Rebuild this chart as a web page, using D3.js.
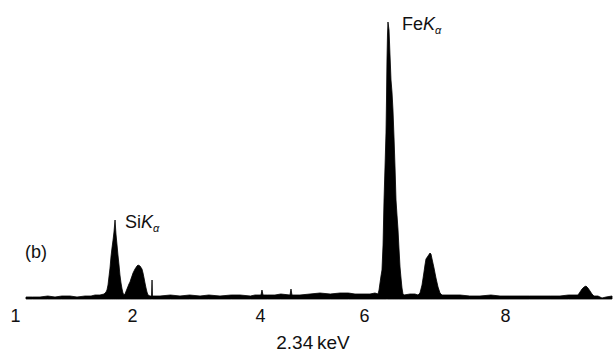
<!DOCTYPE html>
<html>
<head>
<meta charset="utf-8">
<script src="https://cdn.jsdelivr.net/npm/d3@7"></script>
<style>
  body { margin: 0; background: #fff; }
  text { font-family: "Liberation Sans", Arial, Helvetica, sans-serif; fill: #111; }
</style>
</head>
<body>
<div id="chart"></div>
<script>
// EDS spectrum (b), energies in keV and counts (arbitrary units)
const energy = [
  1.094, 1.150, 1.214, 1.280, 1.342, 1.400, 1.470, 1.530, 1.598, 1.650,
  1.684, 1.726, 1.761, 1.778, 1.786, 1.795, 1.803, 1.812, 1.821, 1.829,
  1.838, 1.846, 1.855, 1.863, 1.872, 1.880, 1.889, 1.897, 1.906, 1.915,
  1.923, 1.932, 1.940, 1.957, 1.974, 1.983, 1.991, 2.000, 2.016, 2.047,
  2.078, 2.094, 2.125, 2.156, 2.172, 2.188, 2.203, 2.219, 2.234, 2.250,
  2.281, 2.305, 2.313, 2.320, 2.438, 2.600, 2.750, 2.900, 3.063, 3.200,
  3.375, 3.550, 3.688, 3.850, 3.922, 4.019, 4.038, 4.058, 4.150, 4.288,
  4.400, 4.577, 4.596, 4.615, 4.769, 4.962, 5.154, 5.350, 5.538, 5.700,
  5.827, 6.000, 6.085, 6.156, 6.199, 6.213, 6.227, 6.241, 6.255, 6.270,
  6.284, 6.298, 6.312, 6.319, 6.326, 6.333, 6.340, 6.355, 6.369, 6.383,
  6.397, 6.411, 6.426, 6.440, 6.454, 6.468, 6.482, 6.496, 6.511, 6.525,
  6.539, 6.553, 6.567, 6.652, 6.723, 6.766, 6.794, 6.823, 6.851, 6.865,
  6.879, 6.908, 6.936, 6.950, 6.965, 6.993, 7.021, 7.050, 7.078, 7.106,
  7.362, 7.500, 7.645, 7.800, 7.929, 8.070, 8.213, 8.350, 8.496, 8.640,
  8.780, 8.900, 8.993, 9.035, 9.064, 9.092, 9.121, 9.149, 9.177, 9.206,
  9.234, 9.262, 9.319, 9.376, 9.433, 9.518
];
const counts = [
  2, 2, 2, 3, 2, 3, 3, 2, 3, 3,
  4, 4, 5, 7, 9, 14, 22, 31, 43, 51,
  59, 67, 79, 65, 54, 44, 34, 24, 16, 10,
  6, 4, 5, 10, 15, 17, 20, 23, 26, 30,
  33, 34, 33, 30, 26, 21, 16, 11, 7, 4,
  3, 3, 19, 3, 3, 4, 3, 4, 3, 4,
  3, 4, 4, 3, 4, 4, 9, 4, 4, 4,
  5, 4, 10, 4, 4, 5, 6, 5, 6, 6,
  5, 5, 5, 6, 5, 9, 16, 23, 29, 54,
  99, 132, 166, 199, 239, 264, 277, 269, 244, 219,
  207, 189, 161, 132, 99, 84, 70, 51, 32, 21,
  11, 5, 4, 5, 5, 4, 6, 14, 27, 34,
  40, 43, 46, 45, 40, 31, 21, 12, 6, 4,
  4, 3, 3, 4, 3, 3, 3, 3, 3, 3,
  3, 4, 4, 4, 7, 10, 12, 13, 11, 8,
  5, 3, 3, 1, 2, 3
];
const tickValues = [1, 2, 4, 6, 8];
const peakLabels = ['Si', 'Fe'];

const data = energy.map((e, i) => ({ e: e, c: counts[i] }));

let width = 613, height = 354;

let svg = d3.select('#chart')
            .append('svg')
            .attr('width', width)
            .attr('height', height);

// the scanned axis is not evenly spaced, so use a piecewise scale
let xscale = d3.scaleLinear()
               .domain([1, 2, 4, 6, 8])
               .range([15, 132, 260, 364, 505]);

let yscale = d3.scaleLinear()
               .domain([0, 280])
               .range([299, 19]);

// spectrum as a filled area
let area = d3.area()
             .x(d => xscale(d.e))
             .y0(yscale(0))
             .y1(d => yscale(d.c));

svg.append('path')
   .datum(data)
   .attr('d', area)
   .attr('fill', '#000')
   .attr('stroke', '#000')
   .attr('stroke-width', 0.8)
   .attr('stroke-linejoin', 'round');

// x axis: labels only, no line or ticks
let xaxis = svg.append('g')
               .attr('transform', `translate(0, ${yscale(0)})`)
               .call(d3.axisBottom(xscale)
                       .tickValues(tickValues)
                       .tickFormat(d3.format('d'))
                       .tickSize(0)
                       .tickPadding(10));
xaxis.select('.domain').remove();
xaxis.selectAll('text')
     .style('font-family', '"Liberation Sans", Arial, sans-serif')
     .style('font-size', '18px')
     .attr('fill', '#111');

// axis title
svg.append('text')
   .attr('x', 313)
   .attr('y', 349)
   .style('text-anchor', 'middle')
   .style('font-size', '19px')
   .text('2.34\u2009keV');

// panel label
svg.append('text')
   .attr('x', 25)
   .attr('y', 258)
   .style('font-size', '18px')
   .text('(b)');

// peak labels
const labelPos = { Si: [125, 228], Fe: [402, 30] };
peakLabels.forEach(el => {
  let t = svg.append('text')
             .attr('x', labelPos[el][0])
             .attr('y', labelPos[el][1])
             .style('font-size', '18px');
  t.append('tspan').text(el);
  t.append('tspan').style('font-style', 'italic').text('K');
  t.append('tspan')
   .style('font-style', 'italic')
   .style('font-size', '11px')
   .attr('dy', 4)
   .text('\u03b1');
});
</script>
</body>
</html>
